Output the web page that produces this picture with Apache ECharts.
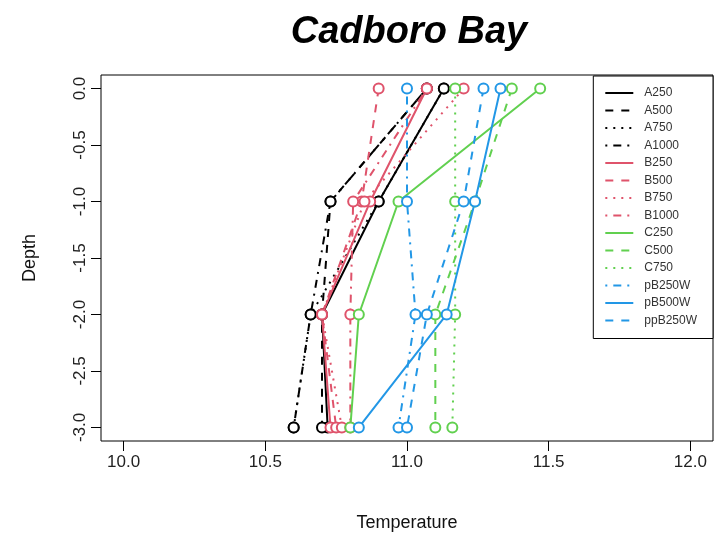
<!DOCTYPE html>
<html><head><meta charset="utf-8">
<script src="https://cdn.jsdelivr.net/npm/echarts@6/dist/echarts.min.js"></script>
<style>html,body{margin:0;padding:0;background:#fff}#c{width:717px;height:534px}</style>
</head><body><div id="c"></div>
<script>
const depths = [0, -1, -2, -3];
const xTicks = [10, 10.5, 11, 11.5, 12];
const yTicks = [0, -0.5, -1, -1.5, -2, -2.5, -3];
const A250 = [11.13, 10.90, 10.70, 10.72];
const A500 = [11.07, 10.73, 10.70, 10.70];
const A750 = [11.13, 10.90, 10.66, 10.60];
const A1000 = [11.07, 10.73, 10.66, 10.60];
const B250 = [11.07, 10.87, 10.70, 10.73];
const B500 = [10.90, 10.84, 10.70, 10.75];
const B750 = [11.20, 10.85, 10.70, 10.77];
const B1000 = [11.07, 10.81, 10.80, 10.80];
const C250 = [11.47, 10.97, 10.83, 10.80];
const C500 = [11.37, 11.24, 11.10, 11.10];
const C750 = [11.17, 11.17, 11.17, 11.16];
const pB250W = [11.00, 11.00, 11.03, 10.97];
const pB500W = [11.33, 11.24, 11.14, 10.83];
const ppB250W = [11.27, 11.20, 11.07, 11.00];

const names = ['A250','A500','A750','A1000','B250','B500','B750','B1000','C250','C500','C750','pB250W','pB500W','ppB250W'];
const values = [A250,A500,A750,A1000,B250,B500,B750,B1000,C250,C500,C750,pB250W,pB500W,ppB250W];
const palette = ['#000000','#DF536B','#61D04F','#2297E6'];
const colorIdx = [0,0,0,0,1,1,1,1,2,2,2,3,3,3];
const dashes = ['solid',[8,8],[2,6],[2,6,8,6]];
const FONT = 'Liberation Sans, Arial, sans-serif';

const series = names.map((n,i)=>({
  name: n, type: 'line',
  data: values[i].map((t,j)=>[t, depths[j]]),
  symbol: 'emptyCircle', symbolSize: 10,
  color: palette[colorIdx[i]],
  itemStyle: {borderWidth: 2, color: palette[colorIdx[i]]},
  lineStyle: {width: 2, type: dashes[i%4], color: palette[colorIdx[i]]},
  animation: false
}));

const chart = echarts.init(document.getElementById('c'));
chart.setOption({
  backgroundColor: '#fff',
  animation: false,
  title: {text: 'Cadboro Bay', left: 404, top: 9, textAlign: 'center',
    textStyle: {fontFamily: FONT, fontSize: 38, fontWeight: 'bold', fontStyle: 'italic', color: '#000'}},
  grid: {left: 101, right: 4, top: 75, bottom: 93, show: true, borderColor: '#000', borderWidth: 1,
    backgroundColor: 'transparent', containLabel: false, outerBoundsMode: 'none'},
  xAxis: {type: 'value', min: 9.92, max: 12.08,
    name: 'Temperature', nameLocation: 'middle', nameGap: 73,
    nameTextStyle: {fontFamily: FONT, fontSize: 18, color: '#111'},
    splitLine: {show: false}, axisLine: {show: false, onZero: false},
    axisTick: {show: true, length: 10, customValues: xTicks, lineStyle: {color: '#000'}},
    axisLabel: {customValues: xTicks, margin: 13, fontFamily: FONT, fontSize: 17, color: '#222',
      formatter: v => v.toFixed(1)}},
  yAxis: {type: 'value', min: -3.12, max: 0.12,
    name: 'Depth', nameLocation: 'middle', nameGap: 62, nameRotate: 90,
    nameTextStyle: {fontFamily: FONT, fontSize: 18, color: '#111'},
    splitLine: {show: false}, axisLine: {show: false, onZero: false},
    axisTick: {show: true, length: 10, customValues: yTicks, lineStyle: {color: '#000'}},
    axisLabel: {customValues: yTicks, rotate: 90, margin: 12, fontFamily: FONT, fontSize: 17, color: '#222',
      formatter: v => v.toFixed(1)}},
  legend: {orient: 'vertical', right: 4, top: 76, data: names,
    backgroundColor: '#fff', borderColor: '#000', borderWidth: 1, borderRadius: 0,
    padding: [11, 16, 12, 11], itemWidth: 28, itemHeight: 12, itemGap: 5.5,
    itemStyle: {opacity: 0},
    textStyle: {fontFamily: FONT, fontSize: 12, color: '#333', padding: [0,0,0,6]},
    selectedMode: false},
  series: series
});
</script></body></html>
